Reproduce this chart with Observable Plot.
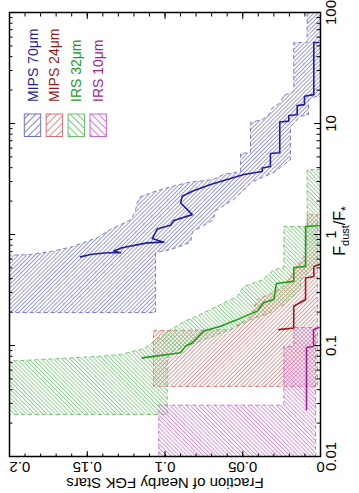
<!DOCTYPE html>
<html><head><meta charset="utf-8">
<script src="https://cdn.jsdelivr.net/npm/d3@7"></script>
<script src="https://cdn.jsdelivr.net/npm/@observablehq/plot@0.6"></script>
<style>
html,body{margin:0;padding:0;background:#fff;}
#wrap{position:relative;width:359px;height:493px;overflow:hidden;background:#fff;}
#wrap svg{position:absolute;left:0;top:0;max-width:none !important;width:493px !important;height:359px !important;transform-origin:0 0;transform:translate(0px,493px) rotate(-90deg);}
</style></head><body><div id="wrap"></div>
<script>
// ---- data: each point is [Fdust/F*, fraction of nearby FGK stars] ----
const mips70Line = [[53.7,0.0011],[53.7,0.0043],[18.2,0.0043],[17.6,0.0103],[14.8,0.0103],[14.5,0.015],[12.0,0.015],[11.8,0.0204],[10.5,0.0204],[10.3,0.0262],[5.45,0.0262],[5.37,0.0322],[4.10,0.0322],[3.97,0.0375],[3.70,0.0375],[3.47,0.0493],[3.13,0.060],[2.82,0.0707],[2.45,0.0825],[2.21,0.0889],[1.93,0.090],[1.51,0.0825],[1.34,0.0943],[1.21,0.0965],[1.12,0.105],[0.92,0.1082],[0.853,0.1008],[0.84,0.1115],[0.76,0.1275],[0.71,0.1329],[0.684,0.1286],[0.684,0.1372],[0.661,0.1479],[0.629,0.1543]];
const mips70Upper = [[100,0.0086],[53.7,0.0086],[53.7,0.0172],[19.4,0.0172],[17.9,0.0238],[15.5,0.0257],[13.9,0.0309],[12.0,0.0334],[10.9,0.0373],[10.2,0.045],[5.48,0.045],[5.37,0.0514],[3.70,0.0514],[3.47,0.0624],[3.13,0.0688],[2.94,0.0855],[2.54,0.1029],[2.20,0.1158],[1.86,0.1183],[1.61,0.119],[1.36,0.122],[1.11,0.135],[0.94,0.1434],[0.78,0.159],[0.70,0.1736],[0.66,0.1865],[0.647,0.206],[0.198,0.206]];
const mips70Lower = [[100,0],[17.5,0],[17.5,0.0032],[16.4,0.0077],[12.0,0.0077],[11.6,0.0129],[9.4,0.0193],[4.74,0.0193],[4.02,0.0257],[3.62,0.030],[2.94,0.045],[2.71,0.047],[2.07,0.056],[1.64,0.0675],[1.36,0.0688],[1.06,0.0823],[0.85,0.0836],[0.73,0.0965],[0.69,0.1061],[0.198,0.1061]];

const mips24Line = [[0.54,0.0],[0.515,0.0043],[0.419,0.0043],[0.405,0.0096],[0.26,0.0096],[0.226,0.0172],[0.144,0.0172],[0.139,0.0268]];
const mips24Upper = [[1.51,0.0084],[0.66,0.0096],[0.571,0.0129],[0.48,0.0161],[0.34,0.0238],[0.30,0.0302],[0.26,0.0405],[0.182,0.045],[0.139,0.0579],[0.136,0.1074],[0.0428,0.1074]];
const mips24Lower = [[1.51,0.002],[0.0428,0.002]];

const irs32Line = [[1.205,0.001],[1.18,0.0096],[0.515,0.0096],[0.504,0.0172],[0.378,0.0172],[0.362,0.0283],[0.26,0.030],[0.244,0.0365],[0.204,0.0407],[0.171,0.0536],[0.149,0.0643],[0.135,0.075],[0.126,0.0772],[0.106,0.0825],[0.0986,0.0868],[0.086,0.090],[0.0774,0.1147]];
const irs32Upper = [[3.85,0.0086],[1.18,0.0086],[1.18,0.0236],[0.504,0.0236],[0.48,0.030],[0.39,0.0375],[0.34,0.0493],[0.276,0.0536],[0.234,0.0643],[0.198,0.075],[0.164,0.0879],[0.139,0.0965],[0.098,0.1115],[0.092,0.1158],[0.083,0.1286],[0.080,0.1415],[0.075,0.178],[0.0718,0.206],[0.0239,0.206]];
const irs32Lower = [[3.85,0],[0.571,0],[0.48,0.0064],[0.39,0.0129],[0.32,0.0129],[0.234,0.0238],[0.198,0.0322],[0.171,0.045],[0.139,0.0579],[0.118,0.0707],[0.098,0.0868],[0.0865,0.0965],[0.075,0.0986],[0.0239,0.0986]];

const irs10Line = [[0.145,0.001],[0.139,0.0045],[0.098,0.0045],[0.096,0.009],[0.0265,0.009]];
const irs10Upper = [[0.145,0.0172],[0.098,0.0172],[0.098,0.0236],[0.029,0.0236],[0.029,0.104],[0.01,0.104]];
const irs10Lower = [[0.145,0.0032],[0.01,0.0032]];

const seriesNames = ["MIPS 70\u03bcm", "MIPS 24\u03bcm", "IRS 32\u03bcm", "IRS 10\u03bcm"];
const lineColors = ["#1f1f9c", "#a01818", "#16a016", "#a01ea0"];
const dashColors = ["#6f6fcf", "#d67070", "#66c266", "#cc66cc"];
const hatchColors = ["#7a7ad2", "#d87878", "#70c670", "#d070d0"];
const hatchAngles = [-45, -45, 45, 45];

const xTickValues = [0.01, 0.1, 1, 10, 100];
const xTickLabels = ["0.01", "0.1", "1", "10", "100"];
const yTickValues = [0, 0.05, 0.1, 0.15, 0.2];
const yTickLabels = ["0", "0.05", "0.1", "0.15", "0.2"];
const xTitle = ["F", "dust", "/F", "*"];
const yTitle = "Fraction of Nearby FGK Stars";

// ---- layout ----
const W = 493, H = 359, mL = 36, mR = 13, mT = 9, mB = 39;
const fw = W - mL - mR, fh = H - mT - mB;
const FONT = "'Liberation Sans', Arial, Helvetica, sans-serif";

const rows = pts => pts.map(([F, f]) => ({F, f}));
function bandPolygon(upper, lower) {
  const pts = upper.concat(lower.slice().reverse());
  pts.push(upper[0]);
  return rows(pts);
}
const bands = [
  {upper: mips70Upper, lower: mips70Lower, line: mips70Line},
  {upper: mips24Upper, lower: mips24Lower, line: mips24Line},
  {upper: irs32Upper, lower: irs32Lower, line: irs32Line},
  {upper: irs10Upper, lower: irs10Lower, line: irs10Line}
];

const xMinor = [];
[0.01, 0.1, 1, 10].forEach(d => { for (let k = 2; k <= 9; k++) xMinor.push(d * k); });
const yMinor = d3.range(1, 20).map(i => i / 100);

const marks = [];
bands.forEach((b, i) => {
  marks.push(Plot.line(bandPolygon(b.upper, b.lower), {
    x: "F", y: "f", fill: `url(#hatch${i})`, stroke: dashColors[i], strokeWidth: 0.9,
    strokeDasharray: "4,3", strokeLinecap: "butt", strokeLinejoin: "miter", curve: "linear", clip: true
  }));
});
bands.forEach((b, i) => {
  marks.push(Plot.line(rows(b.line), {x: "F", y: "f", stroke: lineColors[i], strokeWidth: 1.6, curve: "linear", clip: true}));
});
// inward ticks on all four sides
marks.push(Plot.ruleX(xTickValues, {x: d => d, insetTop: fh - 6, stroke: "black", strokeWidth: 1}));
marks.push(Plot.ruleX(xTickValues, {x: d => d, insetBottom: fh - 6, stroke: "black", strokeWidth: 1}));
marks.push(Plot.ruleX(xMinor, {x: d => d, insetTop: fh - 3.5, stroke: "black", strokeWidth: 1}));
marks.push(Plot.ruleX(xMinor, {x: d => d, insetBottom: fh - 3.5, stroke: "black", strokeWidth: 1}));
marks.push(Plot.ruleY(yTickValues, {y: d => d, insetRight: fw - 6, stroke: "black", strokeWidth: 1}));
marks.push(Plot.ruleY(yTickValues, {y: d => d, insetLeft: fw - 6, stroke: "black", strokeWidth: 1}));
marks.push(Plot.ruleY(yMinor, {y: d => d, insetRight: fw - 3.5, stroke: "black", strokeWidth: 1}));
marks.push(Plot.ruleY(yMinor, {y: d => d, insetLeft: fw - 3.5, stroke: "black", strokeWidth: 1}));
marks.push(Plot.frame({stroke: "black", strokeWidth: 1.5}));
// tick labels
marks.push(Plot.text(xTickValues, {x: d => d, text: (d, i) => xTickLabels[i], frameAnchor: "bottom", dy: 5, lineAnchor: "top", fontSize: 15, fill: "black"}));
const yIdxMid = yTickValues.map((d, i) => i).filter(i => i < yTickValues.length - 1);
marks.push(Plot.text(yIdxMid, {y: i => yTickValues[i], text: i => yTickLabels[i], frameAnchor: "left", dx: -5, rotate: -90, textAnchor: "middle", lineAnchor: "bottom", fontSize: 15, fill: "black"}));
marks.push(Plot.text([yTickValues.length - 1], {y: i => yTickValues[i], text: i => yTickLabels[i], frameAnchor: "left", dx: -5, rotate: -90, textAnchor: "end", lineAnchor: "bottom", fontSize: 15, fill: "black"}));
marks.push(Plot.text([yTitle], {frameAnchor: "left", dx: -21, rotate: -90, textAnchor: "middle", lineAnchor: "bottom", fontSize: 15, fill: "black"}));

const svg = Plot.plot({
  width: W, height: H,
  marginLeft: mL, marginRight: mR, marginTop: mT, marginBottom: mB,
  x: {type: "log", domain: [0.01, 100], axis: null},
  y: {domain: [0, 0.2], axis: null},
  style: {fontFamily: FONT, background: "white", maxWidth: "none", overflow: "visible"},
  marks
});

const s = d3.select(svg);
const defs = s.insert("defs", ":first-child");
function addPattern(id, color, angle, period, width) {
  const p = defs.append("pattern").attr("id", id).attr("patternUnits", "userSpaceOnUse")
    .attr("width", period).attr("height", period).attr("patternTransform", `rotate(${angle})`);
  p.append("line").attr("x1", period / 2).attr("x2", period / 2).attr("y1", -1).attr("y2", period + 1)
    .attr("stroke", color).attr("stroke-width", width);
}
hatchColors.forEach((c, i) => {
  addPattern(`hatch${i}`, c, hatchAngles[i], 2.9, 0.75);
  addPattern(`lhatch${i}`, c, hatchAngles[i], 5, 0.9);
});

// legend (top-right of the frame in the unrotated drawing)
const lg = s.append("g").attr("font-family", FONT).attr("font-size", 14).attr("text-anchor", "start");
seriesNames.forEach((name, i) => {
  const y0 = 24.3 + 21.9 * i;
  lg.append("rect").attr("x", 356.5).attr("y", y0).attr("width", 22.5).attr("height", 16.4)
    .attr("fill", `url(#lhatch${i})`).attr("stroke", dashColors[i]).attr("stroke-width", 1);
  lg.append("text").attr("x", 391).attr("y", y0 + 8.2 + 5).attr("text-anchor", "start").attr("fill", lineColors[i]).text(name);
});

// x-axis title with subscripts
const xt = s.append("text").attr("x", mL + fw / 2 + 4).attr("y", 345).attr("text-anchor", "middle")
  .attr("font-family", FONT).attr("font-size", 16).attr("fill", "black");
xt.append("tspan").text(xTitle[0]);
xt.append("tspan").attr("font-size", 11).attr("dy", 4).text(xTitle[1]);
xt.append("tspan").attr("font-size", 16).attr("dy", -4).text(xTitle[2]);
xt.append("tspan").attr("font-size", 12).attr("dy", 5).text(xTitle[3]);

document.getElementById("wrap").appendChild(svg);
</script>
</body></html>
